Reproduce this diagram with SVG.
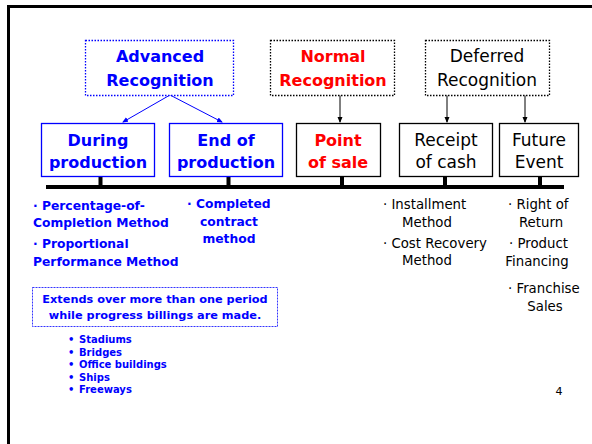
<svg xmlns="http://www.w3.org/2000/svg" width="592" height="444" viewBox="0 0 592 444">
<style>
.t{font-family:"DejaVu Sans","Liberation Sans",sans-serif}
.b{font-weight:bold}
.blue{fill:#0000FF}
.red{fill:#FF0000}
.blk{fill:#000}
.h{font-size:17px}
.hb{font-size:16px}
.m{font-size:12.3px}
.n{font-size:13.3px}
.s{font-size:10px}
.box{fill:#fff;stroke-width:1.3}
.conn{stroke-width:1;fill:none}
</style>
<defs>
<marker id="ab" markerWidth="6" markerHeight="6" refX="5" refY="3" orient="auto" markerUnits="userSpaceOnUse"><path d="M0,0.5 L6,3 L0,5.5 z" fill="#0000FF"/></marker>
<marker id="ak" markerWidth="6" markerHeight="6" refX="5" refY="3" orient="auto" markerUnits="userSpaceOnUse"><path d="M0,0.5 L6,3 L0,5.5 z" fill="#000"/></marker>
</defs>
<rect width="592" height="444" fill="#fff"/>
<path d="M8.5,444 V6.5 H592" fill="none" stroke="#000" stroke-width="3"/>

<g id="connectors">
<line class="conn" x1="170" y1="95" x2="123" y2="122" stroke="#0000FF" marker-end="url(#ab)"/>
<line class="conn" x1="170" y1="95" x2="222" y2="122" stroke="#0000FF" marker-end="url(#ab)"/>
<line class="conn" x1="340" y1="95" x2="340" y2="122" stroke="#000" marker-end="url(#ak)"/>
<line class="conn" x1="447" y1="95" x2="447" y2="122" stroke="#000" marker-end="url(#ak)"/>
<line class="conn" x1="525" y1="95" x2="525" y2="122" stroke="#000" marker-end="url(#ak)"/>
<g fill="#000">
<rect x="46" y="185" width="518" height="4"/>
<rect x="98.5" y="177" width="4" height="9"/>
<rect x="226.5" y="177" width="4" height="9"/>
<rect x="340" y="177" width="4" height="9"/>
<rect x="443" y="177" width="4" height="9"/>
<rect x="538" y="177" width="4" height="9"/>
</g>
</g>

<g id="advanced">
<rect class="box" x="85.5" y="40.5" width="148" height="55" stroke="#0000FF" stroke-dasharray="1.5,1.5" stroke-width="1.5"/>
<text class="t b blue hb" x="160" y="62" text-anchor="middle">Advanced</text>
<text class="t b blue hb" x="160" y="86" text-anchor="middle">Recognition</text>
</g>
<g id="normal">
<rect class="box" x="270.5" y="40.5" width="124" height="55" stroke="#000" stroke-dasharray="1.5,1.5" stroke-width="1.5"/>
<text class="t b red hb" x="333" y="62" text-anchor="middle">Normal</text>
<text class="t b red hb" x="333" y="86" text-anchor="middle">Recognition</text>
</g>
<g id="deferred">
<rect class="box" x="425.5" y="40.5" width="124" height="55" stroke="#000" stroke-dasharray="1.5,1.5" stroke-width="1.5"/>
<text class="t blk h" x="487" y="62" text-anchor="middle">Deferred</text>
<text class="t blk h" x="487" y="86" text-anchor="middle">Recognition</text>
</g>

<g id="during">
<rect class="box" x="41.5" y="123.5" width="113" height="53" stroke="#0000FF"/>
<text class="t b blue hb" x="98" y="146" text-anchor="middle">During</text>
<text class="t b blue hb" x="98" y="168" text-anchor="middle">production</text>
</g>
<g id="endof">
<rect class="box" x="169.5" y="123.5" width="113" height="53" stroke="#0000FF"/>
<text class="t b blue hb" x="226" y="146" text-anchor="middle">End of</text>
<text class="t b blue hb" x="226" y="168" text-anchor="middle">production</text>
</g>
<g id="pointofsale">
<rect class="box" x="296.5" y="123.5" width="84" height="53" stroke="#000"/>
<text class="t b red hb" x="338" y="146" text-anchor="middle">Point</text>
<text class="t b red hb" x="338" y="168" text-anchor="middle">of sale</text>
</g>
<g id="receipt">
<rect class="box" x="399.5" y="123.5" width="93" height="53" stroke="#000"/>
<text class="t blk h" x="446" y="146" text-anchor="middle">Receipt</text>
<text class="t blk h" x="446" y="168" text-anchor="middle">of cash</text>
</g>
<g id="future">
<rect class="box" x="499.5" y="123.5" width="79" height="53" stroke="#000"/>
<text class="t blk h" x="539" y="146" text-anchor="middle">Future</text>
<text class="t blk h" x="539" y="168" text-anchor="middle">Event</text>
</g>

<g id="advanced-methods" class="t b blue m">
<text x="33" y="210">· Percentage-of-</text>
<text x="33" y="227">Completion Method</text>
<text x="33" y="248">· Proportional</text>
<text x="33" y="266">Performance Method</text>
<text x="187" y="208">· Completed</text>
<text x="229" y="226" text-anchor="middle">contract</text>
<text x="229" y="243" text-anchor="middle">method</text>
</g>

<g id="extends">
<rect x="32.5" y="287.5" width="245" height="39" fill="none" stroke="#0000FF" stroke-width="0.8" stroke-dasharray="2,1"/>
<text class="t b blue" font-size="11.3" x="155" y="303" text-anchor="middle">Extends over more than one period</text>
<text class="t b blue" font-size="11.3" x="155" y="319" text-anchor="middle">while progress billings are made.</text>
</g>

<g id="examples" class="t b blue s">
<text x="68" y="343">•</text><text x="79" y="343">Stadiums</text>
<text x="68" y="356">•</text><text x="79" y="356">Bridges</text>
<text x="68" y="368">•</text><text x="79" y="368">Office buildings</text>
<text x="68" y="381">•</text><text x="79" y="381">Ships</text>
<text x="68" y="393">•</text><text x="79" y="393">Freeways</text>
</g>

<g id="deferred-methods" class="t blk n">
<text x="383" y="209">· Installment</text>
<text x="427" y="227" text-anchor="middle">Method</text>
<text x="383" y="248">· Cost Recovery</text>
<text x="427" y="265" text-anchor="middle">Method</text>
<text x="508" y="209">· Right of</text>
<text x="541" y="227" text-anchor="middle">Return</text>
<text x="509" y="248">· Product</text>
<text x="537" y="266" text-anchor="middle">Financing</text>
<text x="508" y="293">· Franchise</text>
<text x="545" y="311" text-anchor="middle">Sales</text>
</g>

<text class="t blk" font-size="11" x="559" y="395" text-anchor="middle">4</text>
</svg>
